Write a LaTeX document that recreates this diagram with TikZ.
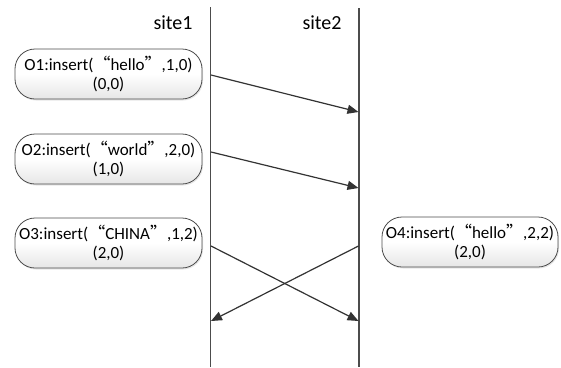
\documentclass[tikz,border=0pt]{standalone}
\usepackage{fontspec}
\setmainfont{Carlito}
\newfontfamily\cjk{Noto Sans CJK SC}
\usetikzlibrary{arrows.meta,shadows}
\newcommand{\openq}{{\cjk “}}
\newcommand{\closeq}{{\cjk ”}}
\begin{document}
\begin{tikzpicture}[x=1pt,y=-1pt,
  opbox/.style={draw=black!70, line width=0.8pt, rounded corners=20pt,
    top color=white, bottom color=black!10, middle color=white,
    drop shadow={shadow xshift=1pt, shadow yshift=-1.5pt, opacity=0.2},
    minimum width=187pt, minimum height=50pt, align=center,
    inner sep=0pt, font=\fontsize{17}{19.5}\selectfont},
  lifeline/.style={draw=black!70, line width=1.4pt},
  msg/.style={draw=black!80, line width=1.2pt,
    -{Triangle[length=11pt,width=9pt]}},
  sitelabel/.style={font=\fontsize{20}{22}\selectfont, inner sep=0pt}]
\useasboundingbox (0,0) rectangle (561,367);

% lifelines of the two sites
\coordinate (s1top) at (210.5,7);
\coordinate (s1bot) at (210.5,367);
\coordinate (s2top) at (359,8);
\coordinate (s2bot) at (359,367);
\draw[lifeline] (s1top) -- (s1bot);
\draw[lifeline] (s2top) -- (s2bot);
\node[sitelabel] (site1) at (173,23) {site1};
\node[sitelabel] (site2) at (322,23) {site2};

% operations
\node[opbox] (o1) at (108.5,74) {O1:insert(\openq hello\closeq,1,0)\\(0,0)};
\node[opbox] (o2) at (108.5,159) {O2:insert(\openq world\closeq,2,0)\\(1,0)};
\node[opbox] (o3) at (108.5,243) {O3:insert(\openq CHINA\closeq,1,2)\\(2,0)};
\node[opbox, minimum width=176pt] (o4) at (470,242) {O4:insert(\openq hello\closeq,2,2)\\(2,0)};

% message end points on the lifelines
\coordinate (a1) at (211,75);
\coordinate (b1) at (358.5,112);
\coordinate (a2) at (211,152);
\coordinate (b2) at (358.5,188);
\coordinate (a3) at (211,246);
\coordinate (b3) at (358.5,321);
\coordinate (a4) at (358.5,246);
\coordinate (b4) at (211,321);

\draw[msg] (a1) -- (b1);
\draw[msg] (a2) -- (b2);
\draw[msg] (a3) -- (b3);
\draw[msg] (a4) -- (b4);
\end{tikzpicture}
\end{document}
